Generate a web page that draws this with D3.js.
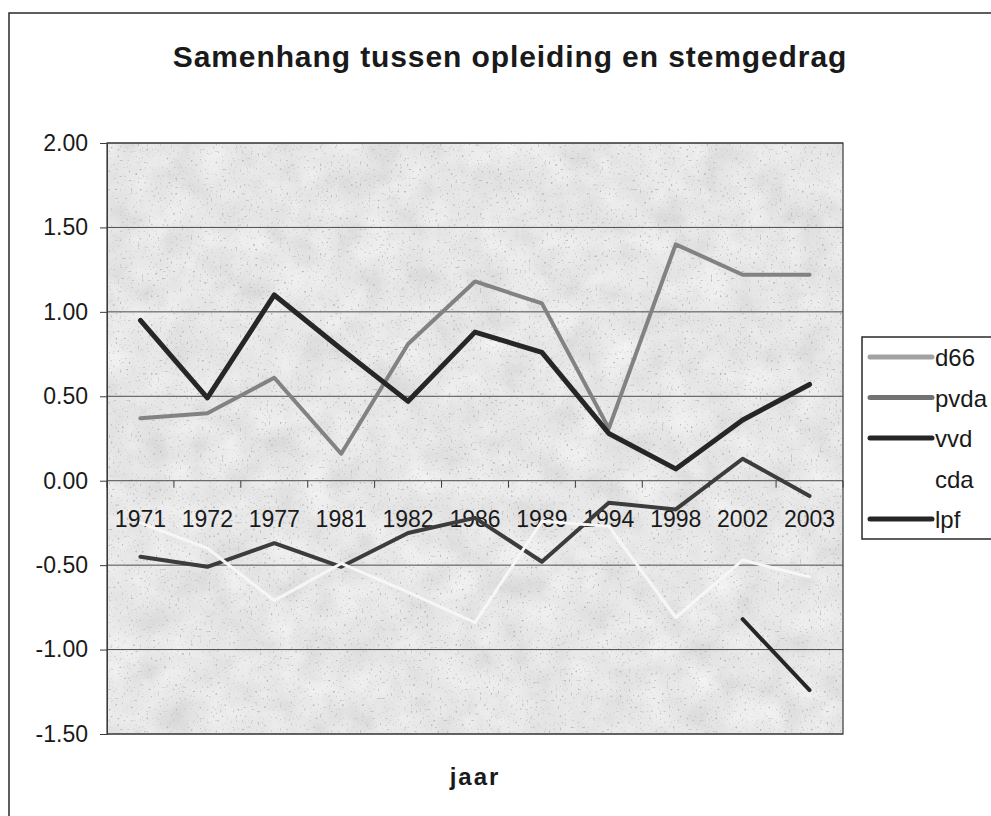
<!DOCTYPE html>
<html>
<head>
<meta charset="utf-8">
<script src="https://d3js.org/d3.v7.min.js"></script>
<style>
  body { margin: 0; background: #fff; }
  text { font-family: "Liberation Sans", Arial, sans-serif; fill: #1a1a1a; }
</style>
</head>
<body>
<div id="chart"></div>
<script>
// categories and series
var years = ["1971", "1972", "1977", "1981", "1982", "1986", "1989", "1994", "1998", "2002", "2003"];
var d66  = [0.37, 0.40, 0.61, 0.16, 0.81, 1.18, 1.05, 0.31, 1.40, 1.22, 1.22];
var pvda = [-0.45, -0.51, -0.37, -0.51, -0.31, -0.22, -0.48, -0.13, -0.17, 0.13, -0.09];
var vvd  = [0.95, 0.49, 1.10, 0.78, 0.47, 0.88, 0.76, 0.28, 0.07, 0.36, 0.57];
var cda  = [-0.25, -0.40, -0.71, -0.49, -0.66, -0.84, -0.24, -0.27, -0.81, -0.47, -0.57];
var lpf  = [null, null, null, null, null, null, null, null, null, -0.82, -1.24];
var yTicks = [-1.5, -1.0, -0.5, 0, 0.5, 1.0, 1.5, 2.0];

var series = [
  { name: "d66",  values: d66,  color: "#828282", key: "#a2a2a2", width: 4 },
  { name: "pvda", values: pvda, color: "#3c3c3c", key: "#727272", width: 4 },
  { name: "vvd",  values: vvd,  color: "#262626", key: "#262626", width: 5 },
  { name: "cda",  values: cda,  color: "#f6f6f6", key: "#ffffff", width: 3 },
  { name: "lpf",  values: lpf,  color: "#262626", key: "#262626", width: 4 }
];

var W = 991, H = 816;
var plot = { left: 107, right: 843, top: 143, bottom: 734 };

var svg = d3.select("#chart").append("svg")
    .attr("width", W)
    .attr("height", H);

// scanned paper look for the plot area
var defs = svg.append("defs");
var f = defs.append("filter").attr("id", "grain")
    .attr("x", 0).attr("y", 0).attr("width", "100%").attr("height", "100%");
f.append("feTurbulence").attr("type", "fractalNoise").attr("baseFrequency", "0.03")
    .attr("numOctaves", 3).attr("seed", 4).attr("result", "blot");
f.append("feColorMatrix").attr("in", "blot").attr("type", "matrix")
    .attr("values", "0.33 0.33 0.33 0 0  0.33 0.33 0.33 0 0  0.33 0.33 0.33 0 0  0 0 0 0 1")
    .attr("result", "gray");
var ct = f.append("feComponentTransfer").attr("in", "gray").attr("result", "base");
["feFuncR", "feFuncG", "feFuncB"].forEach(function (fn) {
  ct.append(fn).attr("type", "linear").attr("slope", 0.4).attr("intercept", 0.6);
});
f.append("feTurbulence").attr("type", "fractalNoise").attr("baseFrequency", "0.45")
    .attr("numOctaves", 1).attr("seed", 9).attr("result", "fine");
f.append("feColorMatrix").attr("in", "fine").attr("type", "matrix")
    .attr("values", "0 0 0 0 0.5  0 0 0 0 0.5  0 0 0 0 0.5  -7 0 0 0 2.6")
    .attr("result", "specks");
f.append("feComposite").attr("in", "specks").attr("in2", "base").attr("operator", "over");

// outer chart frame (runs off the right and bottom of the scan)
svg.append("rect")
    .attr("x", 9).attr("y", 13)
    .attr("width", 1100).attr("height", 900)
    .attr("fill", "#fff")
    .attr("stroke", "#2a2a2a")
    .attr("stroke-width", 1.5);

var x = d3.scaleBand().domain(years).range([plot.left, plot.right]);
var y = d3.scaleLinear().domain([-1.5, 2]).range([plot.bottom, plot.top]);
var cx = function (i) { return x(years[i]) + x.bandwidth() / 2; };

svg.append("rect")
    .attr("x", plot.left).attr("y", plot.top)
    .attr("width", plot.right - plot.left).attr("height", plot.bottom - plot.top)
    .attr("fill", "#c8c8c8")
    .attr("filter", "url(#grain)");

// gridlines
svg.append("g").selectAll("line")
    .data(yTicks)
    .enter().append("line")
    .attr("x1", plot.left).attr("x2", plot.right)
    .attr("y1", function (d) { return y(d); })
    .attr("y2", function (d) { return y(d); })
    .attr("stroke", "#4d4d4d")
    .attr("stroke-width", 1);

svg.append("rect")
    .attr("x", plot.left).attr("y", plot.top)
    .attr("width", plot.right - plot.left).attr("height", plot.bottom - plot.top)
    .attr("fill", "none")
    .attr("stroke", "#3a3a3a")
    .attr("stroke-width", 1.2);

// y axis
var yAxis = svg.append("g")
    .attr("transform", "translate(" + plot.left + ",0)")
    .call(d3.axisLeft(y).tickValues(yTicks).tickSize(7).tickPadding(12)
      .tickFormat(function (d) { return d.toFixed(2); }));
yAxis.select(".domain").attr("stroke", "#3a3a3a");
yAxis.selectAll(".tick line").attr("stroke", "#3a3a3a");
yAxis.selectAll("text")
    .attr("font-size", 23)
    .attr("font-family", "Liberation Sans, Arial, sans-serif")
    .attr("fill", "#1a1a1a");

// category axis crosses at zero, tick marks between categories
var y0 = y(0);
svg.append("g").selectAll("line")
    .data(d3.range(years.length + 1))
    .enter().append("line")
    .attr("x1", function (i) { return plot.left + i * x.step(); })
    .attr("x2", function (i) { return plot.left + i * x.step(); })
    .attr("y1", y0).attr("y2", y0 + 7)
    .attr("stroke", "#3a3a3a");

svg.append("g").selectAll("text")
    .data(years)
    .enter().append("text")
    .attr("x", function (d, i) { return cx(i); })
    .attr("y", y0 + 46)
    .attr("text-anchor", "middle")
    .attr("font-size", 23)
    .text(function (d) { return d; });

// series lines
var line = d3.line()
    .defined(function (d) { return d != null; })
    .x(function (d, i) { return cx(i); })
    .y(function (d) { return y(d); });

svg.append("g").selectAll("path")
    .data(series)
    .enter().append("path")
    .attr("d", function (s) { return line(s.values); })
    .attr("fill", "none")
    .attr("stroke", function (s) { return s.color; })
    .attr("stroke-width", function (s) { return s.width; })
    .attr("stroke-linejoin", "round")
    .attr("stroke-linecap", "round");

// title and axis title
svg.append("text")
    .attr("x", 510).attr("y", 67)
    .attr("text-anchor", "middle")
    .attr("font-size", 30)
    .attr("font-weight", "bold")
    .attr("letter-spacing", 0.9)
    .text("Samenhang tussen opleiding en stemgedrag");

svg.append("text")
    .attr("x", 475).attr("y", 785)
    .attr("text-anchor", "middle")
    .attr("font-size", 24)
    .attr("font-weight", "bold")
    .attr("letter-spacing", 2)
    .text("jaar");

// legend
var lg = { x: 862, top: 337, step: 40.5 };
svg.append("rect")
    .attr("x", lg.x).attr("y", lg.top)
    .attr("width", 200).attr("height", 202)
    .attr("fill", "#fff")
    .attr("stroke", "#2a2a2a")
    .attr("stroke-width", 1.5);

var items = svg.append("g").selectAll("g")
    .data(series)
    .enter().append("g")
    .attr("transform", function (s, i) {
      return "translate(" + lg.x + "," + (lg.top + 20 + i * lg.step) + ")";
    });
items.append("line")
    .attr("x1", 8).attr("x2", 70)
    .attr("stroke", function (s) { return s.key; })
    .attr("stroke-width", 5)
    .attr("stroke-linecap", "round");
items.append("text")
    .attr("x", 73).attr("y", 9)
    .attr("font-size", 24)
    .text(function (s) { return s.name; });
</script>
</body>
</html>
